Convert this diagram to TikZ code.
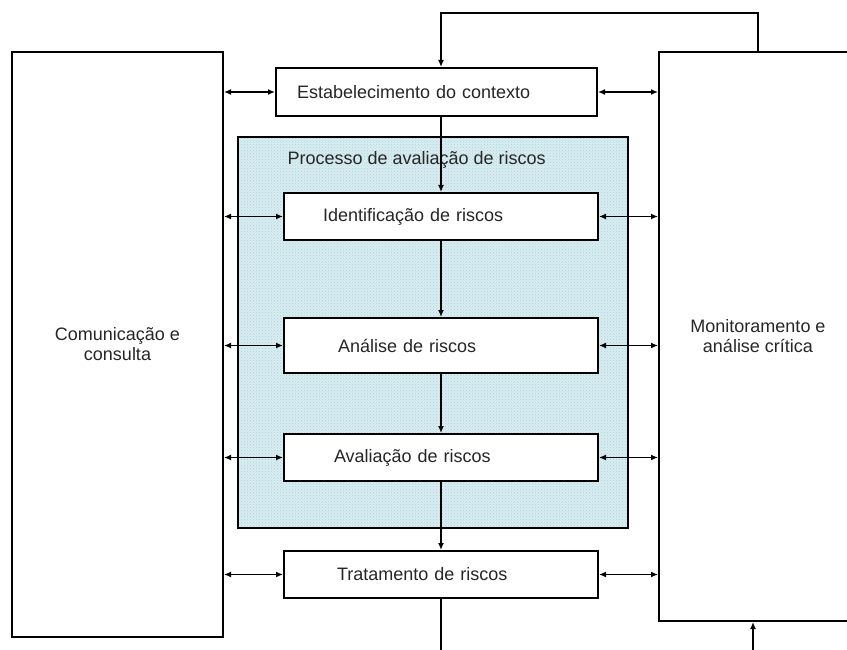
\documentclass[tikz,border=0pt]{standalone}
\usepackage{fontspec}
\setmainfont{Liberation Sans}
\usetikzlibrary{arrows.meta,patterns}

\definecolor{procfill}{RGB}{216,237,241}
\definecolor{procdots}{RGB}{178,212,220}

\begin{document}
\begin{tikzpicture}[
            x=1pt, y=-1pt,
            % Estilo dos dois blocos laterais
            side/.style={
                draw=black,
                line width=2pt,
                align=center,
                font=\fontsize{18}{20}\selectfont,
                text=black!85
            },
            % Estilo das etapas do processo
            stepbox/.style={
                draw=black,
                line width=2pt,
                fill=white,
                minimum height=47pt,
                text width=314pt,
                inner xsep=0pt,
                align=left,
                font=\fontsize{18}{21}\selectfont,
                text=black!85
            },
            % Setas duplas e setas simples
            link/.style={line width=1.3pt, {Latex[length=7pt,width=6pt]}-{Latex[length=7pt,width=6pt]}},
            flow/.style={line width=1.3pt, -{Latex[length=7pt,width=6pt]}}
        ]
            \useasboundingbox (0,0) rectangle (847,650);
            \clip (0,0) rectangle (847,650);

            % --- BLOCOS LATERAIS ---
            \node[side, minimum width=211pt, minimum height=585pt] (comm) at (117.5,344.5) {Comunicação e\\consulta};
            \node[side, minimum width=198pt, minimum height=569pt] (moni) at (758,336.5) {Monitoramento e\\análise crítica};

            % --- PROCESSO DE AVALIAÇÃO (fundo hachurado) ---
            \node[draw=black, line width=2pt, minimum width=390pt, minimum height=391pt,
                  preaction={fill=procfill}, pattern=crosshatch dots, pattern color=procdots] (proc) at (433,332.5) {};
            \node[anchor=west, font=\fontsize{18}{21}\selectfont, text=black!85] (proclabel) at (284,160) {Processo de avaliação de riscos};

            % --- ETAPAS ---
            \node[stepbox, text width=321pt, minimum height=48pt] (estab) at (436.5,92) {\hspace*{21pt}Estabelecimento do contexto};
            \node[stepbox] (ident) at (441,216.5) {\hspace*{39pt}Identificação de riscos};
            \node[stepbox, minimum height=55pt] (anal) at (441,345.5) {\hspace*{54pt}Análise de riscos};
            \node[stepbox] (aval) at (441,457.5) {\hspace*{50pt}Avaliação de riscos};
            \node[stepbox] (trat) at (441,574.5) {\hspace*{53pt}Tratamento de riscos};

            % --- SETAS HORIZONTAIS ---
            \foreach \b in {estab,ident,anal,aval,trat}{
                \draw[link] (comm.east |- \b.west) -- (\b.west);
                \draw[link] (\b.east) -- (moni.west |- \b.east);
            }

            % --- FLUXO VERTICAL ---
            \draw[flow] (ident.north |- estab.south) -- (ident.north);
            \draw[flow] (ident.south) -- (anal.north);
            \draw[flow] (anal.south) -- (aval.north);
            \draw[flow] (aval.south) -- (trat.north);
            \draw[flow] (moni.north) -- ++(0,-38) -| (ident.north |- estab.north);

            % saídas pela borda inferior
            \coordinate (out) at (441,660);
            \coordinate (in) at (753,660);
            \draw[line width=1.3pt] (trat.south) -- (out);
            \draw[flow] (in) -- (in |- moni.south);

        \end{tikzpicture}
\end{document}
